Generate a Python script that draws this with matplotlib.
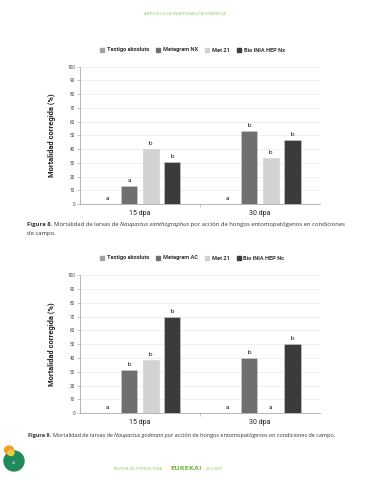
import numpy as np
import matplotlib
matplotlib.use('Agg')
import matplotlib.pyplot as plt
from matplotlib.patches import Circle, Ellipse

# datos
grupos = ['15 dpa', '30 dpa']
trat8 = ['Testigo absoluto', 'Metagram NX', 'Met 21', 'Bio INIA HEP Nx']
trat9 = ['Testigo absoluto', 'Metagram AC', 'Met 21', 'Bio INIA HEP Nc']
fig8_vals = [[0, 0], [13, 53], [40, 33.5], [30.5, 46.5]]
fig8_letras = [['a', 'a'], ['a', 'b'], ['b', 'b'], ['b', 'b']]
fig9_vals = [[0, 0], [31, 40], [38.5, 0], [69.5, 50]]
fig9_letras = [['a', 'a'], ['b', 'b'], ['b', 'a'], ['b', 'b']]
yticks = list(range(0, 101, 10))

colores = ['#a0a0a0', '#6f6f6f', '#d2d2d2', '#3b3b3b']
fnt = 'Roboto'
verde = '#8cbf4a'

fig = plt.figure(figsize=(3.7, 4.8), dpi=100, facecolor='white')


def grafico(rect, vals, letras, nombres, ley_y):
    ax = fig.add_axes(rect)
    x = np.arange(len(grupos))
    w, paso = 0.135, 0.18
    for i, (v, l) in enumerate(zip(vals, letras)):
        pos = x + (i - 1.5) * paso
        ax.bar(pos, v, w, color=colores[i], edgecolor='#cfcfcf', linewidth=0.4, zorder=3)
        for px, pv, pl in zip(pos, v, l):
            ax.text(px, pv + 2.5, pl, ha='center', va='bottom', fontsize=4.6,
                    family=fnt, color='#222222')
    ax.set_xlim(-0.5, 1.5)
    ax.set_ylim(0, 100)
    ax.set_yticks(yticks)
    ax.set_yticklabels([str(t) for t in yticks], fontsize=3.4, family=fnt, color='#444444')
    ax.set_xticks([0.5], minor=True)
    ax.set_xticks(x)
    ax.set_xticklabels(grupos, fontsize=5, family=fnt, color='#222222')
    ax.tick_params(axis='x', which='major', length=0, pad=4)
    ax.tick_params(axis='x', which='minor', length=2.5, width=0.4, color='#999999')
    ax.tick_params(axis='y', length=2, width=0.4, color='#999999', pad=1.5)
    ax.grid(axis='y', color='#e4e4e4', linewidth=0.4, zorder=0)
    for s in ['top', 'right']:
        ax.spines[s].set_visible(False)
    for s in ['left', 'bottom']:
        ax.spines[s].set_color('#999999')
        ax.spines[s].set_linewidth(0.5)
    ax.set_ylabel('Mortalidad corregida (%)', fontsize=5.4, family=fnt, weight='bold',
                  color='#222222', labelpad=8)
    # leyenda
    hs = [plt.Rectangle((0, 0), 1, 1, color=c) for c in colores]
    leg = fig.legend(hs, nombres, loc='center', bbox_to_anchor=(0.52, ley_y), ncol=4,
                     frameon=False, handlelength=0.7, handleheight=0.7, handletextpad=0.5,
                     columnspacing=1.2, prop={'family': fnt, 'size': 4.1, 'weight': 'bold'})
    for t in leg.get_texts():
        t.set_color('#333333')
    return ax


grafico([0.216, 0.575, 0.649, 0.286], fig8_vals, fig8_letras, trat8, 1 - 50 / 480)
grafico([0.216, 0.139, 0.649, 0.288], fig9_vals, fig9_letras, trat9, 1 - 258 / 480)

fig.canvas.draw()
rend = fig.canvas.get_renderer()


def linea(x, y, partes, size=4.0):
    # partes: (texto, estilo, peso)
    for txt, est, peso in partes:
        t = fig.text(x, y, txt, fontsize=size, family='Open Sans', style=est, weight=peso,
                     color='#333333', va='baseline')
        bb = t.get_window_extent(rend)
        x += bb.width / fig.bbox.width


linea(27 / 370, 1 - 226 / 480, [('Figura 8. ', 'normal', 'bold'),
                                 ('Mortalidad de larvas de ', 'normal', 'normal'),
                                 ('Naupactus xanthographus', 'italic', 'normal'),
                                 (' por acción de hongos entomopatógenos en condiciones', 'normal', 'normal')], size=4.2)
linea(27 / 370, 1 - 235 / 480, [('de campo.', 'normal', 'normal')], size=4.2)
linea(28 / 370, 1 - 437 / 480, [('Figura 9. ', 'normal', 'bold'),
                                 ('Mortalidad de larvas de ', 'normal', 'normal'),
                                 ('Naupactus godmani', 'italic', 'normal'),
                                 (' por acción de hongos entomopatógenos en condiciones de campo.', 'normal', 'normal')], size=3.97)

# encabezado y pie
fig.text(0.5, 1 - 14 / 480, 'ARTÍCULOS DE INVESTIGACIÓN CIENTÍFICA', ha='center', va='center',
         fontsize=3, family='Open Sans', color=verde)
fig.text(138 / 370, 1 - 469 / 480, 'REVISTA DE CITRICULTURA', ha='center', va='center',
         fontsize=2.8, family='Open Sans', color=verde)
fig.text(186 / 370, 1 - 469 / 480, 'EUREKA!', ha='center', va='center',
         fontsize=4.6, family='DejaVu Sans', weight='bold', color='#7ab648')
fig.text(214 / 370, 1 - 469 / 480, '2(2) 2021', ha='center', va='center',
         fontsize=2.8, family='Open Sans', color=verde)
ov = fig.add_axes([0, 0, 1, 1], facecolor='none')
ov.set_xlim(0, 370)
ov.set_ylim(480, 0)
ov.axis('off')
ov.add_patch(Circle((14, 461), 10, color='#1f8a5a'))
ov.add_patch(Ellipse((9, 450), 9, 8, color='#f0a030'))
ov.add_patch(Ellipse((11, 453), 6, 5, color='#e8d040'))
ov.text(14, 463, '40', ha='center', va='center', fontsize=2.5, color='white', family='Open Sans')

fig.savefig('out.png', dpi=100, facecolor='white')
